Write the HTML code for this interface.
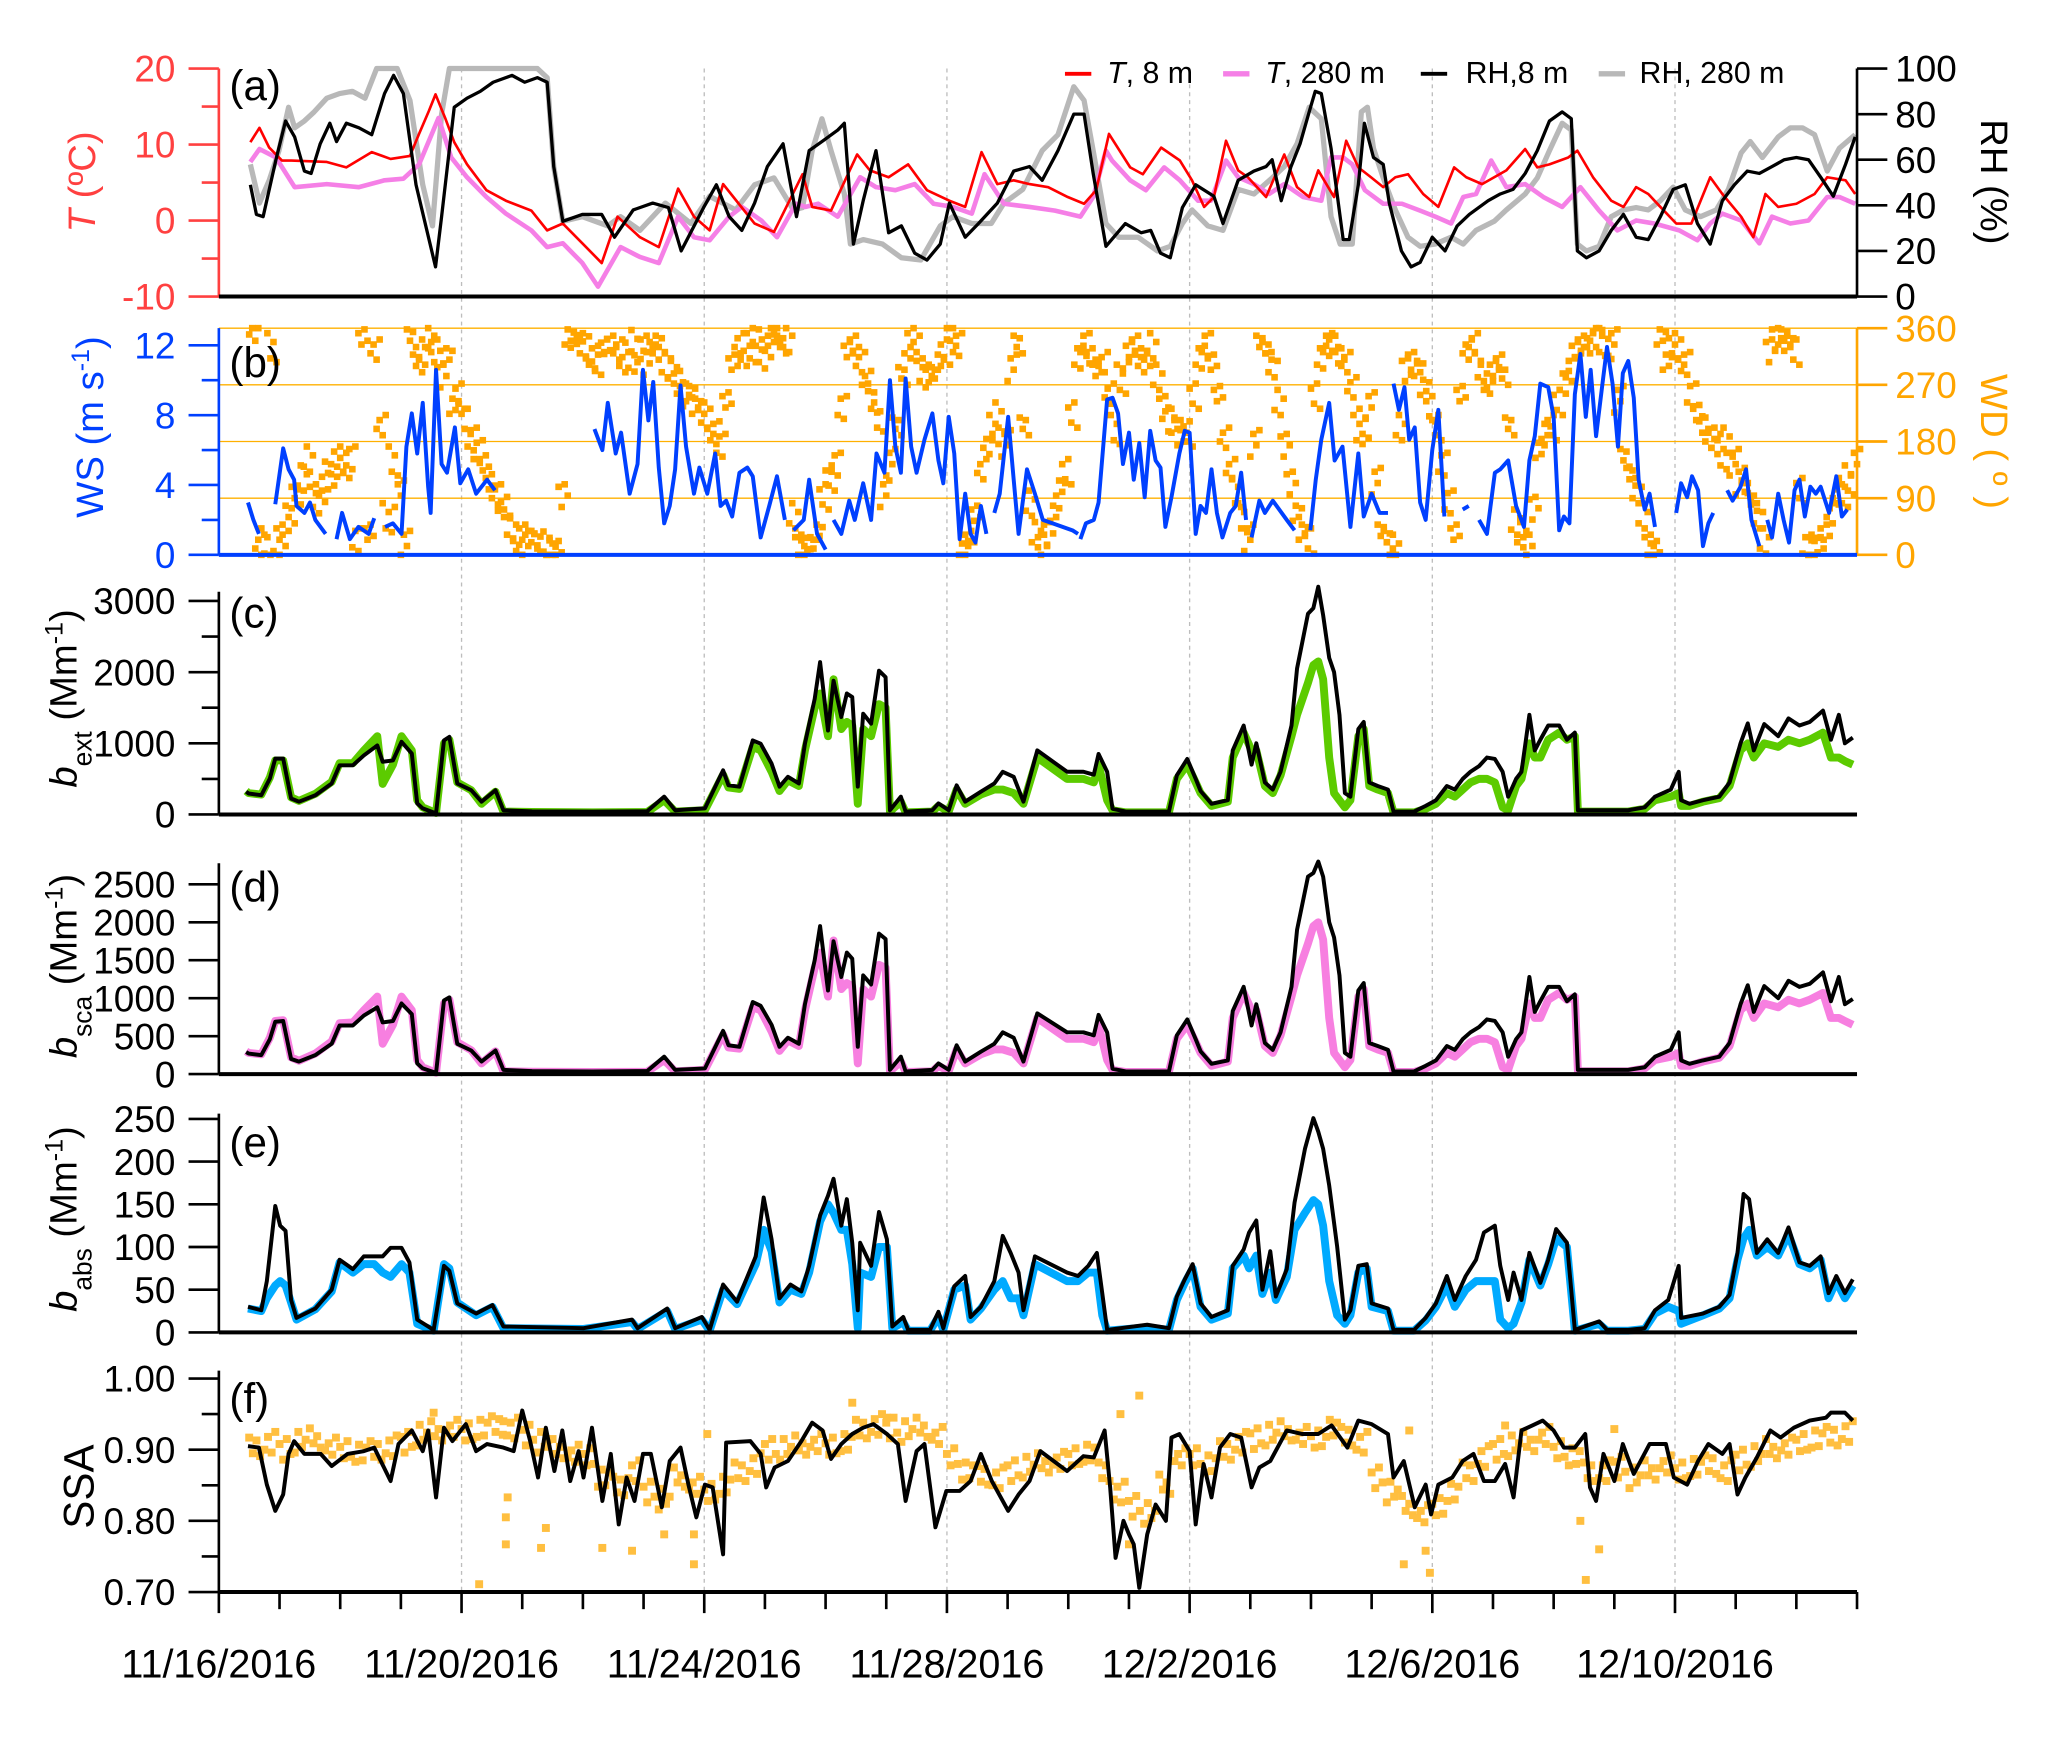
<!DOCTYPE html>
<html><head><meta charset="utf-8"><title>Meteorology and aerosol optical properties</title>
<style>
html,body{margin:0;padding:0;background:#fff;}
svg{display:block;font-family:"Liberation Sans",Arial,sans-serif;}
</style></head>
<body>
<svg id="chart" xmlns="http://www.w3.org/2000/svg" width="2066" height="1737" viewBox="0 0 1567.5 1318">
<rect x="0" y="0" width="1567.5" height="1318" fill="#fff"/>
<g id="grid"></g>
<g id="marks"></g>
<g id="axes"></g>
<g id="labels">
 <text x="174" y="76" font-size="32">(a)</text>
 <text x="174" y="286" font-size="32">(b)</text>
 <text x="174" y="476" font-size="32">(c)</text>
 <text x="174" y="684" font-size="32">(d)</text>
 <text x="174" y="878" font-size="32">(e)</text>
 <text x="174" y="1072" font-size="32">(f)</text>

 <text transform="translate(72,138) rotate(-90)" text-anchor="middle" font-size="29" fill="#ff4040"><tspan font-style="italic">T</tspan> (ºC)</text>
 <text transform="translate(78,324) rotate(-90)" text-anchor="middle" font-size="29" fill="#0040ff">WS (m s<tspan baseline-shift="super" font-size="19">-1</tspan>)</text>
 <text transform="translate(58,530) rotate(-90)" text-anchor="middle" font-size="29"><tspan font-style="italic">b</tspan><tspan baseline-shift="sub" font-size="20">ext</tspan> (Mm<tspan baseline-shift="super" font-size="19">-1</tspan>)</text>
 <text transform="translate(58,733) rotate(-90)" text-anchor="middle" font-size="29"><tspan font-style="italic">b</tspan><tspan baseline-shift="sub" font-size="20">sca</tspan> (Mm<tspan baseline-shift="super" font-size="19">-1</tspan>)</text>
 <text transform="translate(58,925) rotate(-90)" text-anchor="middle" font-size="29"><tspan font-style="italic">b</tspan><tspan baseline-shift="sub" font-size="20">abs</tspan> (Mm<tspan baseline-shift="super" font-size="19">-1</tspan>)</text>
 <text transform="translate(71,1128) rotate(-90)" text-anchor="middle" font-size="32">SSA</text>
 <text transform="translate(1503,138) rotate(90)" text-anchor="middle" font-size="29">RH (%)</text>
 <text transform="translate(1503,335) rotate(90)" text-anchor="middle" font-size="29" fill="#ffa500">WD ( º )</text>

 <g>
  <line x1="808" y1="56" x2="828" y2="56" stroke="#ff0000" stroke-width="3"/>
  <text x="840" y="63" font-size="23"><tspan font-style="italic">T</tspan>, 8 m</text>
  <line x1="928" y1="56" x2="948" y2="56" stroke="#f57fe6" stroke-width="4"/>
  <text x="960" y="63" font-size="23"><tspan font-style="italic">T</tspan>, 280 m</text>
  <line x1="1078" y1="56" x2="1098" y2="56" stroke="#000" stroke-width="3"/>
  <text x="1112" y="63" font-size="23">RH,8 m</text>
  <line x1="1213" y1="56" x2="1233" y2="56" stroke="#b8b8b8" stroke-width="4"/>
  <text x="1244" y="63" font-size="23">RH, 280 m</text>
 </g>
</g>
</svg>
<script>
// ===== time axis (days since 11/16/2016 00:00) =====
const dateLabels = ["11/16/2016","11/20/2016","11/24/2016","11/28/2016","12/2/2016","12/6/2016","12/10/2016"];
const dateLabelDays = [0,4,8,12,16,20,24];

// ===== panel (a) =====
const t8Times = [0.52,0.67,0.83,1.04,1.2,1.78,2.1,2.52,2.83,3.15,3.3,3.46,3.57,3.73,3.88,4.09,4.41,4.73,5.15,5.41,5.67,5.99,6.31,6.57,6.94,7.25,7.57,7.83,8.09,8.31,8.57,8.83,9.15,9.62,9.78,10.09,10.52,10.73,11.04,11.36,11.67,12.04,12.3,12.57,12.83,13.1,13.36,13.67,13.99,14.26,14.46,14.67,15.02,15.23,15.53,15.84,16.04,16.24,16.4,16.6,16.8,16.96,17.26,17.56,17.77,17.97,18.12,18.38,18.58,18.78,18.99,19.19,19.39,19.6,19.85,20.1,20.36,20.56,20.82,21.02,21.22,21.53,21.73,21.93,22.24,22.39,22.65,22.95,23.15,23.36,23.56,23.76,24.02,24.27,24.58,24.78,25.09,25.29,25.49,25.7,26.0,26.3,26.51,26.81,26.97];
const t8Values = [10.3,12.2,9.6,7.9,7.9,7.7,7.0,9.0,8.1,8.5,11.4,14.4,16.6,13.5,10.3,7.4,4.0,2.6,1.3,-1.3,-0.4,-3.0,-5.6,0.5,-2.2,-3.5,4.2,0.5,-1.3,4.8,2.2,-0.4,-1.5,6.1,1.8,1.3,8.7,6.6,5.7,7.4,4.0,2.6,1.8,9.0,4.8,5.3,4.8,4.4,3.1,2.2,4.0,11.4,7.0,6.1,9.6,7.9,5.3,1.8,3.1,10.5,6.6,5.7,3.1,8.7,4.4,3.1,6.6,3.1,10.5,7.0,5.7,4.4,5.7,6.1,3.5,1.8,7.0,5.7,4.8,5.7,6.6,9.4,7.0,7.4,8.3,9.2,5.7,2.6,1.8,4.4,3.5,1.8,-0.4,-0.4,5.7,3.5,0.5,-2.2,3.5,1.8,2.2,3.5,5.7,5.3,3.5];
const t280Times = [0.52,0.67,0.94,1.25,1.78,2.31,2.73,3.04,3.3,3.62,3.83,4.09,4.41,4.73,5.15,5.41,5.67,5.99,6.25,6.62,6.94,7.25,7.57,7.83,8.09,8.41,8.62,8.94,9.2,9.51,9.67,9.88,10.2,10.57,10.83,11.15,11.47,11.78,12.1,12.41,12.62,12.94,13.36,13.78,14.2,14.41,14.62,14.72,15.02,15.28,15.58,15.84,16.14,16.35,16.6,16.8,17.06,17.31,17.56,17.87,18.17,18.33,18.53,18.68,18.89,19.19,19.5,19.8,20.05,20.31,20.51,20.72,20.97,21.22,21.53,21.83,22.14,22.44,22.75,23.05,23.36,23.66,24.07,24.37,24.58,24.78,25.09,25.39,25.6,25.9,26.2,26.51,26.71,26.97];
const t280Values = [7.7,9.4,8.3,4.4,4.8,4.4,5.3,5.5,7.4,13.5,8.3,5.7,3.1,0.9,-1.3,-3.5,-3.0,-5.6,-8.7,-3.5,-4.8,-5.6,0.5,-2.2,-2.6,0.5,1.8,0.0,-2.2,2.2,1.8,2.2,0.5,5.7,4.4,4.0,4.8,2.2,1.8,0.9,6.1,2.2,1.8,1.3,0.5,3.1,9.2,7.9,5.3,4.0,7.0,5.3,2.6,2.6,7.9,5.7,4.8,3.5,4.8,3.1,2.6,8.3,8.3,7.4,4.0,2.2,2.2,1.3,0.5,-0.4,3.1,3.5,7.9,4.4,4.8,3.1,1.8,4.4,1.3,-1.3,0.0,-0.4,-1.3,-2.6,-0.4,0.9,0.0,-3.0,0.5,-0.4,0.0,3.1,3.1,2.2];
const rh8Times = [0.52,0.62,0.73,0.94,1.1,1.25,1.41,1.52,1.67,1.83,1.94,2.1,2.31,2.52,2.73,2.88,3.04,3.25,3.41,3.57,3.67,3.88,4.09,4.31,4.52,4.83,5.04,5.25,5.41,5.52,5.67,5.99,6.31,6.52,6.83,7.15,7.41,7.62,7.99,8.2,8.41,8.62,8.83,9.04,9.3,9.52,9.73,9.94,10.2,10.31,10.46,10.62,10.83,11.04,11.25,11.47,11.67,11.89,12.04,12.3,12.52,12.83,13.1,13.36,13.57,13.83,14.09,14.26,14.41,14.62,14.94,15.2,15.36,15.52,15.68,15.88,16.1,16.4,16.55,16.8,17.06,17.26,17.36,17.51,17.67,17.82,17.97,18.07,18.17,18.33,18.53,18.63,18.78,18.88,19.03,19.19,19.29,19.49,19.65,19.8,20.0,20.21,20.41,20.61,20.92,21.12,21.33,21.53,21.73,21.93,22.14,22.29,22.39,22.54,22.75,22.95,23.15,23.36,23.56,23.76,23.97,24.17,24.37,24.58,24.78,24.98,25.19,25.39,25.6,25.8,26.0,26.2,26.41,26.61,26.81,26.97];
const rh8Values = [49,36,35,60,77,70,55,54,67,76,68,76,74,71,89,97,89,49,31,13,35,83,87,90,94,97,94,96,94,57,33,36,36,26,38,41,39,20,39,49,35,29,41,57,67,35,64,68,73,76,23,42,64,28,31,19,16,23,41,26,32,41,55,57,51,64,80,80,54,22,32,28,29,19,17,39,49,44,32,51,55,57,60,42,57,67,81,90,89,65,25,25,49,76,61,58,41,20,13,15,26,20,31,36,42,45,47,54,64,77,81,78,20,17,20,29,36,26,25,35,47,49,32,23,42,49,55,54,57,60,61,60,52,44,58,70];
const rh280Times = [0.52,0.67,0.83,0.99,1.15,1.25,1.41,1.57,1.78,1.99,2.2,2.41,2.6,2.94,3.15,3.36,3.52,3.67,3.8,5.25,5.41,5.52,5.67,5.99,6.41,6.62,6.94,7.36,7.78,8.09,8.52,8.83,9.15,9.47,9.62,9.78,9.94,10.09,10.31,10.41,10.62,10.94,11.25,11.57,11.89,12.1,12.41,12.73,12.94,13.25,13.57,13.83,14.09,14.26,14.41,14.62,14.83,15.15,15.47,15.68,15.88,16.04,16.3,16.55,16.8,17.06,17.36,17.56,17.77,17.97,18.17,18.33,18.48,18.68,18.83,18.93,19.03,19.19,19.39,19.6,19.8,20.05,20.31,20.51,20.72,21.02,21.22,21.53,21.73,21.93,22.14,22.29,22.39,22.54,22.75,22.95,23.15,23.36,23.56,23.76,23.97,24.17,24.42,24.68,24.88,25.09,25.24,25.44,25.7,25.9,26.1,26.3,26.51,26.71,26.97];
const rh280Values = [58,41,51,64,83,74,77,81,87,89,90,87,100,100,86,49,31,80,100,100,96,57,33,35,31,35,29,41,32,44,38,49,52,38,39,64,78,64,45,23,25,23,17,16,31,35,32,32,41,47,64,71,92,86,64,32,26,26,20,22,32,38,31,29,47,45,52,57,67,83,78,35,23,23,81,83,65,52,38,26,22,23,26,23,29,33,38,45,52,64,76,73,23,20,22,35,38,39,38,42,48,38,35,38,47,63,68,61,70,74,74,71,55,65,71];
const tTicks = [20,10,0,-10];
const tMinor = [15,5,-5];
const rhTicks = [100,80,60,40,20,0];

// ===== panel (b) =====
const wsTimes = [0.48,0.57,0.66,0.76,0.93,1.06,1.15,1.24,1.28,1.41,1.5,1.59,1.76,1.84,1.94,2.03,2.16,2.3,2.47,2.56,2.65,2.74,2.87,3.01,3.09,3.18,3.27,3.36,3.45,3.49,3.58,3.67,3.76,3.89,3.98,4.11,4.24,4.42,4.55,4.66,6.19,6.32,6.41,6.54,6.63,6.77,6.9,6.99,7.08,7.16,7.25,7.34,7.43,7.52,7.61,7.7,7.83,7.92,8.05,8.18,8.27,8.36,8.46,8.58,8.71,8.8,8.93,9.07,9.2,9.33,9.4,9.47,9.64,9.73,9.86,10.0,10.06,10.13,10.26,10.39,10.48,10.62,10.75,10.84,10.97,11.06,11.15,11.24,11.32,11.41,11.5,11.63,11.76,11.86,11.94,12.03,12.12,12.21,12.3,12.39,12.47,12.56,12.65,12.71,12.78,12.87,13.01,13.1,13.18,13.32,13.45,13.58,14.07,14.16,14.18,14.2,14.29,14.42,14.5,14.64,14.73,14.82,14.9,15.0,15.08,15.17,15.26,15.35,15.44,15.52,15.6,15.7,15.83,15.92,16.0,16.1,16.18,16.27,16.36,16.45,16.54,16.67,16.76,16.85,16.93,16.97,17.02,17.15,17.24,17.37,17.6,17.73,17.86,17.99,18.08,18.17,18.3,18.39,18.52,18.65,18.78,18.87,19.0,19.13,19.27,19.31,19.36,19.45,19.54,19.62,19.71,19.8,19.89,20.0,20.1,20.2,20.3,20.5,20.6,20.68,20.77,20.9,21.03,21.12,21.25,21.38,21.51,21.6,21.69,21.78,21.91,22.0,22.09,22.17,22.26,22.35,22.44,22.53,22.61,22.7,22.79,22.88,22.97,23.06,23.14,23.23,23.32,23.4,23.5,23.58,23.67,23.8,24.02,24.1,24.2,24.28,24.38,24.46,24.55,24.63,24.75,24.86,24.95,25.08,25.17,25.26,25.39,25.45,25.52,25.6,25.7,25.79,25.88,25.97,26.05,26.14,26.23,26.32,26.4,26.54,26.66,26.75,26.84];
const wsValues = [3.0,2.0,1.2,null,2.9,6.1,4.9,4.3,2.8,2.4,3.0,2.0,1.2,null,0.9,2.4,0.9,1.6,1.2,2.1,null,1.6,1.8,1.2,6.2,8.1,5.8,8.7,3.9,2.4,10.6,5.2,4.7,7.3,4.1,4.9,3.5,4.3,3.7,null,7.2,6.0,8.7,5.8,7.0,3.5,5.2,10.6,7.7,9.9,5.0,1.8,2.8,4.9,9.7,6.2,3.5,5.0,3.5,5.8,2.8,3.1,2.2,4.7,5.0,4.5,1.0,2.8,4.5,2.0,null,1.4,2.0,4.3,1.2,0.3,null,2.0,1.2,3.1,2.0,4.1,2.0,5.8,4.7,10.0,6.2,4.7,10.1,6.2,4.7,6.6,8.1,5.4,4.1,7.9,5.8,0.9,3.5,1.2,0.7,2.8,1.2,null,2.4,3.5,7.9,4.3,1.2,4.9,3.5,2.0,1.4,1.2,null,0.9,1.8,2.0,3.0,8.9,9.0,8.1,5.2,7.0,4.3,6.4,3.3,7.1,5.4,5.0,1.6,3.3,5.8,7.1,7.0,1.2,2.8,2.4,4.9,2.4,1.0,2.4,2.8,4.7,2.0,null,1.0,3.1,2.4,3.1,2.0,1.4,null,1.4,4.3,6.6,8.7,5.4,6.2,1.6,5.8,2.2,3.5,2.4,2.4,null,9.8,8.3,9.6,6.6,7.3,3.0,2.0,6.0,8.3,2.2,null,2.6,2.8,null,2.0,1.2,4.7,4.9,5.4,2.8,1.6,5.4,6.8,9.8,9.6,7.9,1.4,2.2,1.8,9.2,11.5,7.9,10.6,6.8,9.4,11.9,9.8,6.2,10.4,11.1,9.0,4.3,2.6,3.5,1.6,null,2.4,4.1,3.3,4.5,3.7,0.5,1.8,2.4,null,3.7,3.1,3.9,4.9,2.0,0.5,null,2.0,1.0,3.5,2.0,0.7,3.7,4.3,2.2,3.9,3.5,3.9,2.4,4.5,2.2,2.6];
const wdStartA = 0.5, wdStartB = 0.6, wdStep = 0.2;
const wdValuesA = [350,20,30,60,120,100,130,150,160,340,320,60,100,340,320,330,310,250,190,140,90,50,30,20,15,10,340,330,320,325,320,315,330,320,300,280,250,220,200,240,330,330,330,350,340,20,10,90,150,320,300,250,100,200,330,300,280,320,340,20,130,200,180,330,80,20,60,130,320,310,300,200,320,300,330,240,200,190,320,300,180,100,30,330,300,180,60,20,320,330,300,200,240,30,10,300,290,230,150,30,320,300,290,280,50,20,160,200,280,320,330,340,340,150,100,20,340,330,310,220,180,160,150,100,60,330,340,320,20,10,60,100,150];
const wdValuesB = [10,330,20,90,150,90,110,140,30,30,200,150,20,300,340,290,230,210,170,110,70,40,20,15,5,100,335,325,310,330,300,335,310,330,290,260,230,210,180,300,310,350,320,330,60,15,30,120,240,330,270,220,150,280,340,290,300,350,10,60,170,220,300,200,30,40,100,220,340,290,250,280,330,310,280,220,180,250,340,250,130,60,180,320,240,120,30,250,340,310,260,210,120,20,200,310,260,200,90,250,330,280,300,200,30,80,190,240,300,330,340,335,250,120,60,10,300,320,260,200,170,180,120,80,20,350,330,100,15,30,90,120];
const wdJitter = [0,14,-10,22,-18,8,-24,12,-6,18];
const wsTicks = [12,8,4,0];
const wsMinor = [10,6,2];
const wdTicks = [360,270,180,90,0];

// ===== panels (c) and (d) =====
const optTimes = [0.45,0.49,0.7,0.84,0.93,1.06,1.19,1.32,1.59,1.86,1.99,2.21,2.39,2.61,2.7,2.87,3.01,3.18,3.27,3.36,3.58,3.71,3.8,3.93,4.16,4.33,4.56,4.69,5.16,6.16,7.06,7.34,7.52,8.01,8.31,8.4,8.58,8.8,8.93,9.11,9.24,9.38,9.56,9.66,9.82,9.91,10.04,10.13,10.26,10.35,10.44,10.53,10.62,10.75,10.88,10.99,11.06,11.24,11.32,11.76,11.86,12.03,12.16,12.3,12.56,12.78,12.92,13.1,13.26,13.49,13.98,14.25,14.42,14.5,14.64,14.73,14.95,15.66,15.79,15.96,16.1,16.18,16.36,16.63,16.71,16.89,17.02,17.1,17.24,17.37,17.5,17.68,17.77,17.95,18.04,18.12,18.2,18.3,18.38,18.47,18.56,18.65,18.78,18.87,18.96,19.1,19.27,19.36,19.7,19.89,20.06,20.24,20.37,20.5,20.63,20.77,20.9,21.03,21.16,21.25,21.38,21.47,21.6,21.69,21.78,21.91,22.09,22.22,22.35,22.4,22.7,23.23,23.5,23.67,23.93,24.06,24.1,24.24,24.46,24.73,24.9,25.08,25.2,25.3,25.47,25.7,25.87,26.05,26.22,26.44,26.57,26.7,26.8,26.93];
const bextBlack = [320,295,270,505,785,785,225,180,270,435,690,690,830,970,740,760,1020,855,155,85,15,1040,1090,435,340,180,340,60,45,40,45,250,60,85,620,410,390,1040,995,715,390,530,435,995,1625,2140,1180,1880,1370,1700,1650,390,1415,1275,2020,1930,60,250,40,60,155,60,410,180,320,435,600,530,180,900,600,600,560,850,600,80,40,40,550,780,500,330,150,200,900,1250,700,1000,450,350,600,1250,2050,2820,2900,3200,2800,2200,2000,1400,300,250,1200,1300,450,400,350,40,40,120,200,400,350,500,600,680,800,780,600,250,500,600,1400,900,1050,1250,1250,1050,1150,60,60,60,100,250,350,600,200,150,200,250,450,1000,1280,900,1270,1100,1350,1250,1300,1460,1050,1400,1000,1080];
const bextGreen = [330,300,280,520,760,760,240,190,290,460,720,720,900,1100,430,700,1100,900,200,100,20,1000,1050,450,340,150,320,40,35,30,35,200,40,60,560,380,360,950,900,600,330,480,400,900,1500,1700,1100,1900,1200,1300,1250,150,1200,1100,1550,1500,40,180,30,40,120,40,350,150,280,350,350,300,150,800,500,500,450,700,200,60,30,30,500,700,450,300,120,180,800,1150,900,900,400,300,550,1100,1400,1850,2100,2150,1900,800,300,200,100,200,1100,1200,400,350,300,30,30,80,150,300,250,350,450,500,500,450,100,60,400,500,1000,800,800,1050,1150,1050,1100,40,40,40,80,200,250,300,120,120,180,230,400,900,1000,800,1000,950,1050,1000,1050,1150,800,800,750,700];
const bscaBlack = [290,270,250,460,690,700,200,165,250,400,640,640,770,880,680,700,930,790,140,75,15,970,1010,400,310,165,310,55,40,35,40,230,55,75,570,380,360,950,900,650,360,480,400,920,1500,1950,1100,1750,1280,1600,1520,360,1300,1180,1850,1780,55,230,35,55,140,55,380,165,295,400,550,480,165,800,550,550,510,780,550,70,35,35,510,720,460,300,135,180,830,1150,640,920,410,320,550,1150,1900,2600,2650,2800,2600,2000,1800,1300,280,230,1100,1200,410,370,320,35,35,110,180,370,320,460,550,620,720,700,550,230,460,550,1280,820,960,1150,1150,960,1050,55,55,55,90,230,320,550,180,135,180,230,410,920,1170,820,1160,1000,1230,1150,1190,1340,960,1280,920,990];
const bscaPink = [300,280,260,480,700,710,220,175,270,430,670,680,840,1020,400,650,1020,840,185,90,18,930,980,420,315,140,300,37,32,28,32,185,37,55,520,350,335,880,840,560,305,445,370,840,1400,1600,1020,1760,1120,1200,1160,140,1120,1020,1440,1400,37,165,28,37,110,37,325,140,260,325,325,280,140,740,465,465,420,650,185,55,28,28,465,650,420,280,110,165,740,1070,840,840,370,280,510,1020,1300,1720,1950,2000,1770,740,280,185,90,185,1020,1120,370,325,280,28,28,75,140,280,230,325,420,465,465,420,90,55,370,465,930,740,740,980,1070,980,1020,37,37,37,75,185,230,280,110,110,165,215,370,840,930,740,930,880,980,930,980,1070,740,740,700,650];
const bextTicks = [3000,2000,1000,0];
const bextMinor = [2500,1500,500];
const bscaTicks = [2500,2000,1500,1000,500,0];

// ===== panel (e) =====
const babsTimes = [0.48,0.7,0.79,0.93,1.01,1.1,1.19,1.28,1.59,1.86,1.99,2.21,2.39,2.56,2.7,2.83,3.01,3.14,3.27,3.54,3.71,3.8,3.93,4.24,4.51,4.69,6.01,6.81,6.9,7.39,7.52,7.96,8.09,8.31,8.54,8.85,8.98,9.11,9.24,9.42,9.6,9.73,9.91,10.04,10.13,10.26,10.35,10.44,10.53,10.57,10.75,10.88,11.01,11.1,11.28,11.36,11.72,11.86,11.94,12.12,12.3,12.39,12.56,12.78,12.92,13.05,13.18,13.26,13.45,13.98,14.16,14.33,14.47,14.56,14.64,15.3,15.66,15.79,15.92,16.05,16.18,16.36,16.63,16.71,16.89,16.98,17.1,17.2,17.33,17.42,17.6,17.73,17.9,18.04,18.12,18.2,18.3,18.43,18.56,18.65,18.78,18.92,19.0,19.27,19.36,19.7,19.89,20.06,20.24,20.37,20.55,20.72,20.85,21.03,21.12,21.25,21.34,21.47,21.6,21.78,21.91,22.04,22.22,22.35,22.75,22.88,23.23,23.5,23.67,23.89,24.06,24.1,24.46,24.73,24.9,25.03,25.13,25.22,25.35,25.52,25.7,25.87,26.05,26.22,26.4,26.53,26.66,26.8,26.93];
const babsBlack = [30,26,60,148,125,119,38,17,28,50,85,74,89,89,89,99,99,82,15,3,78,72,34,22,32,7,5,15,5,28,5,18,3,56,36,89,158,109,40,56,48,78,137,160,180,125,156,105,26,105,78,141,109,7,18,3,3,24,5,54,66,18,30,60,113,93,70,26,89,70,66,78,93,46,3,9,5,42,62,80,34,18,26,78,97,117,131,50,95,42,74,152,215,251,235,215,172,101,15,26,78,80,34,28,3,3,17,34,66,38,66,85,117,125,78,38,70,38,93,58,85,121,105,3,13,3,3,5,26,38,78,17,22,30,44,93,162,156,93,109,93,123,82,78,89,46,66,46,62];
const babsBlue = [28,25,40,55,60,55,35,15,27,48,82,70,80,80,70,65,80,70,10,2,80,75,35,20,30,5,4,12,4,25,4,15,2,50,33,80,120,95,35,50,45,70,130,150,140,120,120,80,5,70,65,100,100,5,12,2,2,18,3,50,55,15,28,50,60,40,40,20,80,60,60,70,70,20,2,6,3,38,58,75,30,15,22,75,90,75,90,45,70,38,65,120,140,155,150,125,60,20,10,20,70,75,30,25,2,2,14,30,55,30,50,60,60,60,15,5,10,35,85,55,80,110,100,2,10,2,2,4,22,30,25,10,20,28,40,85,110,120,90,100,90,115,80,75,85,40,60,40,55];
const babsTicks = [250,200,150,100,50,0];

// ===== panel (f) =====
const ssaTimes = [0.48,0.66,0.79,0.93,1.06,1.15,1.24,1.41,1.68,1.86,2.12,2.39,2.56,2.83,2.96,3.18,3.36,3.45,3.58,3.71,3.85,4.07,4.24,4.42,4.69,4.86,5.0,5.13,5.26,5.39,5.53,5.66,5.79,5.93,6.01,6.15,6.32,6.46,6.59,6.72,6.85,6.99,7.12,7.3,7.43,7.61,7.74,7.87,8.01,8.14,8.31,8.36,8.76,8.93,9.02,9.16,9.38,9.6,9.78,9.95,10.09,10.26,10.44,10.62,10.79,11.01,11.19,11.32,11.5,11.63,11.81,11.99,12.21,12.39,12.56,12.74,13.01,13.18,13.36,13.54,13.98,14.25,14.42,14.6,14.69,14.78,14.91,15.0,15.08,15.17,15.3,15.44,15.61,15.7,15.83,16.0,16.1,16.23,16.36,16.5,16.67,16.85,17.02,17.15,17.33,17.6,17.86,18.12,18.34,18.6,18.78,19.0,19.27,19.36,19.53,19.71,19.89,19.98,20.1,20.33,20.5,20.68,20.85,21.03,21.2,21.34,21.47,21.65,21.82,22.0,22.17,22.35,22.52,22.6,22.7,22.82,23.0,23.14,23.32,23.58,23.85,23.98,24.2,24.38,24.55,24.78,24.9,25.03,25.16,25.35,25.57,25.74,25.96,26.22,26.49,26.57,26.8,26.93];
const ssaBlack = [0.905,0.903,0.851,0.814,0.837,0.894,0.912,0.894,0.894,0.877,0.894,0.898,0.903,0.856,0.908,0.927,0.898,0.927,0.833,0.931,0.912,0.936,0.898,0.908,0.903,0.898,0.955,0.912,0.861,0.931,0.870,0.927,0.856,0.898,0.861,0.931,0.828,0.894,0.795,0.861,0.828,0.894,0.894,0.819,0.884,0.903,0.851,0.805,0.851,0.847,0.753,0.910,0.912,0.894,0.847,0.875,0.884,0.912,0.938,0.927,0.887,0.908,0.922,0.931,0.936,0.922,0.908,0.828,0.898,0.908,0.791,0.842,0.842,0.856,0.894,0.856,0.814,0.837,0.856,0.898,0.870,0.891,0.889,0.927,0.847,0.748,0.800,0.781,0.767,0.706,0.781,0.823,0.800,0.917,0.922,0.898,0.795,0.880,0.833,0.903,0.922,0.917,0.847,0.875,0.884,0.927,0.922,0.922,0.934,0.903,0.941,0.936,0.922,0.861,0.884,0.819,0.851,0.809,0.851,0.861,0.884,0.894,0.856,0.856,0.880,0.833,0.927,0.934,0.941,0.927,0.903,0.903,0.922,0.847,0.828,0.894,0.856,0.908,0.866,0.908,0.908,0.861,0.851,0.884,0.908,0.894,0.908,0.837,0.861,0.889,0.927,0.917,0.931,0.941,0.945,0.952,0.952,0.941];
const ssaOrangeStart = 0.5, ssaOrangeStep = 0.25;
const ssaOrange = [0.905,0.91,0.90,0.91,0.915,0.905,0.90,0.895,0.90,0.905,0.91,0.92,0.925,0.93,0.925,0.93,0.935,0.93,0.92,0.91,0.90,0.895,0.89,0.86,0.85,0.87,0.84,0.83,0.86,0.85,0.84,0.85,0.87,0.88,0.90,0.90,0.905,0.91,0.905,0.91,0.93,0.935,0.93,0.925,0.93,0.92,0.89,0.87,0.865,0.86,0.87,0.875,0.88,0.885,0.89,0.895,0.87,0.84,0.82,0.81,0.85,0.89,0.89,0.88,0.90,0.91,0.915,0.92,0.925,0.92,0.915,0.93,0.92,0.91,0.86,0.84,0.82,0.81,0.82,0.84,0.87,0.89,0.90,0.905,0.91,0.92,0.90,0.89,0.87,0.87,0.875,0.86,0.87,0.88,0.87,0.875,0.88,0.87,0.885,0.89,0.90,0.905,0.91,0.915,0.92,0.925];
const ssaOrangeJitter = [0.012,-0.01,0.008,-0.014,0.015,-0.006,0.004,-0.012];
const ssaOutlierTimes = [3.54,4.69,4.76,4.73,4.73,4.29,5.39,5.31,6.32,6.81,7.34,7.83,7.83,8.05,10.44,11.01,15.17,14.86,15.0,19.53,19.96,19.89,22.53,22.75,22.44,23.0,21.2,19.62];
const ssaOutlierValues = [0.952,0.94,0.833,0.805,0.767,0.711,0.79,0.762,0.762,0.758,0.781,0.739,0.781,0.922,0.966,0.945,0.976,0.95,0.767,0.739,0.727,0.758,0.717,0.76,0.80,0.929,0.934,0.927];
const ssaTicks = [1.00,0.90,0.80,0.70];
const ssaMinor = [0.95,0.85,0.75];

// ===== scales =====
const NS = "http://www.w3.org/2000/svg";
const X0 = 166, X1 = 1409, DAYS = 27;
function xS(t){ return X0 + (X1 - X0) * t / DAYS; }
function lin(v0, v1, y0, y1){ return v => y0 + (v - v0) * (y1 - y0) / (v1 - v0); }
const yT = lin(-10, 20, 225, 52);
const yRH = lin(0, 100, 225, 52);
const yWS = lin(0, 12, 421, 262);
const yWD = lin(0, 360, 421, 249);
const yExt = lin(0, 3000, 618, 456);
const ySca = lin(0, 2500, 815, 671);
const yAbs = lin(0, 250, 1011, 849);
const ySSA = lin(0.70, 1.00, 1208, 1046);

function mk(tag, attrs, parent){
  const e = document.createElementNS(NS, tag);
  for (const k in attrs) e.setAttribute(k, attrs[k]);
  parent.appendChild(e);
  return e;
}
function pathD(times, vals, ys){
  let d = "", pen = false;
  const n = Math.min(times.length, vals.length);
  for (let i = 0; i < n; i++){
    if (vals[i] === null){ pen = false; continue; }
    const x = xS(times[i]).toFixed(1), y = ys(vals[i]).toFixed(1);
    d += (pen ? "L" : "M") + x + " " + y;
    pen = true;
  }
  return d;
}
const grid = document.getElementById("grid");
const marks = document.getElementById("marks");
const axes = document.getElementById("axes");

// gridlines
for (const d of dateLabelDays.slice(1)){
  const g = mk("line", {x1:xS(d), x2:xS(d), y1:52, y2:1208, stroke:"#bdbdbd", "stroke-width":1, "stroke-dasharray":"3 3"}, grid);
  
  
}
for (const v of wdTicks.slice(0,4)){
  const g = mk("line", {x1:X0, x2:X1, y1:yWD(v), y2:yWD(v), stroke:"#ffb000", "stroke-width":1}, grid);
  
  
}

function drawLine(times, vals, ys, color, w, name){
  const p = mk("path", {d:pathD(times, vals, ys), fill:"none", stroke:color, "stroke-width":w, "stroke-linejoin":"round"}, marks);
  
  
}

// panel (a)
drawLine(rh280Times, rh280Values, yRH, "#b8b8b8", 4, "rh-280m-line");
drawLine(t280Times, t280Values, yT, "#f57fe6", 3.5, "t-280m-line");
drawLine(t8Times, t8Values, yT, "#ff0000", 2, "t-8m-line");
drawLine(rh8Times, rh8Values, yRH, "#000000", 2.5, "rh-8m-line");

// panel (b) WD scatter
function drawWD(start, vals, name){
  for (let i = 0; i < vals.length; i++){
    for (let k = 0; k < 4; k++){
      const t = start + i * wdStep + k * 0.05;
      let v = vals[i] + wdJitter[(i * 3 + k) % wdJitter.length];
      v = Math.max(0, Math.min(360, v));
      const r = mk("rect", {x:xS(t)-2.5, y:yWD(v)-2.5, width:5, height:5, fill:"#ffa500"}, marks);
      
      
    }
  }
}
drawWD(wdStartA, wdValuesA, "wd-point");
drawWD(wdStartB, wdValuesB, "wd-point");
drawLine(wsTimes, wsValues, yWS, "#0040ff", 3, "ws-line");

// panel (c),(d),(e)
drawLine(optTimes, bextGreen, yExt, "#5ccb00", 6, "bext-green-line");
drawLine(optTimes, bextBlack, yExt, "#000000", 3, "bext-black-line");
drawLine(optTimes, bscaPink, ySca, "#f77fe0", 6, "bsca-pink-line");
drawLine(optTimes, bscaBlack, ySca, "#000000", 3, "bsca-black-line");
drawLine(babsTimes, babsBlue, yAbs, "#00aaff", 6, "babs-blue-line");
drawLine(babsTimes, babsBlack, yAbs, "#000000", 3, "babs-black-line");

// panel (f)
for (let i = 0; i < ssaOrange.length; i++){
  const t = ssaOrangeStart + i * ssaOrangeStep;
  for (let k = 0; k < 4; k++){
    const tt = t + k * 0.06;
    const v = ssaOrange[i] + ssaOrangeJitter[(i + k) % ssaOrangeJitter.length];
    const r = mk("rect", {x:xS(tt)-3, y:ySSA(v)-3, width:6, height:6, fill:"#ffbf40"}, marks);
    
    
  }
}
for (let i = 0; i < ssaOutlierTimes.length; i++){
  const r = mk("rect", {x:xS(ssaOutlierTimes[i])-3, y:ySSA(ssaOutlierValues[i])-3, width:6, height:6, fill:"#ffbf40"}, marks);
  
  
}
drawLine(ssaTimes, ssaBlack, ySSA, "#000000", 3, "ssa-black-line");

// ===== axes =====
function axisLine(x1,y1,x2,y2,color,w,name){
  const l = mk("line", {x1:x1,y1:y1,x2:x2,y2:y2,stroke:color,"stroke-width":w}, axes);
  
  
}
function leftAxis(ticks, minor, ys, top, bottom, color, fmt, name){
  axisLine(X0, top, X0, bottom, color, 2, name + "-line");
  for (const v of ticks){
    axisLine(X0-23, ys(v), X0, ys(v), color, 2, name + "-tick");
    const t = mk("text", {x:133, y:ys(v)+10, "text-anchor":"end", "font-size":28, fill:color}, axes);
    t.textContent = fmt(v);
    
    
  }
  for (const v of minor){
    axisLine(X0-13, ys(v), X0, ys(v), color, 2, name + "-minor-tick");
  }
}
function rightAxis(ticks, ys, top, bottom, color, name){
  axisLine(X1, top, X1, bottom, color, 2, name + "-line");
  for (const v of ticks){
    axisLine(X1, ys(v), X1+23, ys(v), color, 2, name + "-tick");
    const t = mk("text", {x:1438, y:ys(v)+10, "text-anchor":"start", "font-size":28, fill:color}, axes);
    t.textContent = String(v);
    
    
  }
}
const fInt = v => String(v);
leftAxis(tTicks, tMinor, yT, 52, 225, "#ff4040", fInt, "temperature-axis");
rightAxis(rhTicks, yRH, 52, 225, "#000", "rh-axis");
axisLine(X0, 225, X1, 225, "#000", 3, "panel-a-x-axis");

leftAxis(wsTicks, wsMinor, yWS, 249, 421, "#0040ff", fInt, "ws-axis");
rightAxis(wdTicks, yWD, 249, 421, "#ffa500", "wd-axis");
axisLine(X0, 421, X1, 421, "#0040ff", 3, "panel-b-x-axis");

leftAxis(bextTicks, bextMinor, yExt, 449, 618, "#000", fInt, "bext-axis");
axisLine(X0, 618, X1, 618, "#000", 3, "panel-c-x-axis");
leftAxis(bscaTicks, [], ySca, 655, 815, "#000", fInt, "bsca-axis");
axisLine(X0, 815, X1, 815, "#000", 3, "panel-d-x-axis");
leftAxis(babsTicks, [], yAbs, 845, 1011, "#000", fInt, "babs-axis");
axisLine(X0, 1011, X1, 1011, "#000", 3, "panel-e-x-axis");
leftAxis(ssaTicks, ssaMinor, ySSA, 1040, 1208, "#000", v => v.toFixed(2), "ssa-axis");
axisLine(X0, 1208, X1, 1208, "#000", 3, "time-axis");

for (let d = 0; d <= DAYS; d++){
  const major = dateLabelDays.indexOf(d) >= 0;
  axisLine(xS(d), 1208, xS(d), 1208 + (major ? 16 : 13), "#000", 2, "time-tick");
}
for (let i = 0; i < dateLabels.length; i++){
  const t = mk("text", {x:xS(dateLabelDays[i]), y:1273, "text-anchor":"middle", "font-size":30}, axes);
  t.textContent = dateLabels[i];
  
  
}
</script>
</body></html>
